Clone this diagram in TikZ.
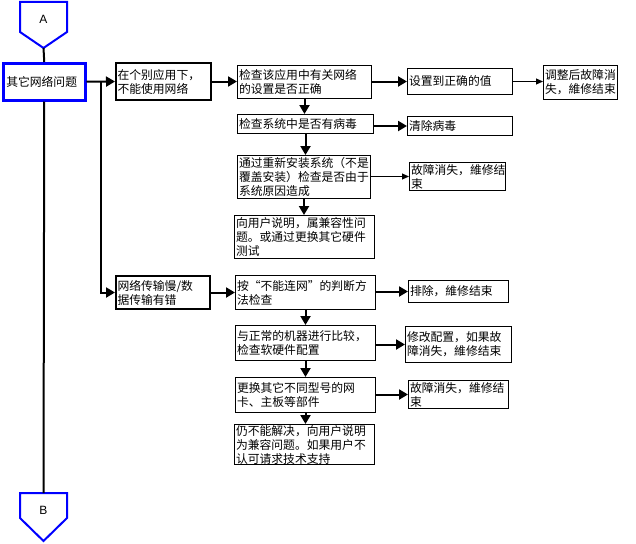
\documentclass[tikz,border=0pt]{standalone}
\usepackage{fontspec}
\setmainfont{Liberation Sans}
\newfontfamily\cjk{Noto Sans CJK SC}
\usetikzlibrary{arrows.meta}
\definecolor{pblue}{RGB}{0,0,255}
\begin{document}
\begin{tikzpicture}[x=1pt,y=-1pt,
  box/.style={draw, line width=1pt, anchor=north west, inner xsep=1.5pt, inner ysep=0pt,
    align=left, font=\cjk\fontsize{11.8}{14}\selectfont},
  thickbox/.style={box, line width=2pt},
  conn/.style={draw=pblue, line width=2pt, line join=miter},
  ln/.style={line width=2pt},
  arr/.style={line width=2pt, -{Triangle[length=9pt,width=10pt]}},
  tarr/.style={line width=1pt, -{Triangle[length=7pt,width=6pt]}},
]
\useasboundingbox (0,0) rectangle (636,543);

% off-page connectors
\draw[conn] (20,2) -- (67,2) -- (67,32) -- (43.5,48) -- (20,32) -- cycle;
\node[font=\fontsize{12}{14}\selectfont] (A) at (43.5,19) {A};
\coordinate (Atip) at (43.5,48);
\draw[conn] (20,493) -- (67,493) -- (67,518) -- (43.5,541) -- (20,518) -- cycle;
\node[font=\fontsize{12}{14}\selectfont] (B) at (43.5,510) {B};
\coordinate (Btop) at (43.5,493);

% boxes
\node[box, draw=pblue, line width=2.5pt, minimum width=82pt, minimum height=37pt, text width=76pt, inner xsep=3pt] (q) at (2,62) {其它网络问题};
\node[thickbox, minimum width=95pt, minimum height=37pt, text width=92pt] (b1) at (115,62) {在个别应用下，\\不能使用网络};
\node[box, minimum width=134pt, minimum height=33pt, text width=131pt] (c1) at (237,65) {检查该应用中有关网络\\的设置是否正确};
\node[box, minimum width=105pt, minimum height=26pt, text width=102pt] (d1) at (407,68) {设置到正确的值};
\node[box, minimum width=74pt, minimum height=34pt, text width=71pt] (e1) at (543,65) {调整后故障消\\失，維修结束};
\node[box, minimum width=136pt, minimum height=19pt, text width=133pt] (f1) at (237,114) {检查系统中是否有病毒};
\node[box, minimum width=105pt, minimum height=19pt, text width=102pt] (g1) at (407,116) {清除病毒};
\node[box, minimum width=133pt, minimum height=43pt, text width=130pt] (h1) at (237,155) {通过重新安装系统（不是\\覆盖安装）检查是否由于\\系统原因造成};
\node[box, minimum width=96pt, minimum height=28pt, text width=93pt] (i1) at (409,162) {故障消失，維修结\\束};
\node[box, minimum width=140pt, minimum height=43pt, text width=137pt] (j1) at (234,215) {向用户说明，属兼容性问\\题。或通过更换其它硬件\\测试};

\node[thickbox, minimum width=94pt, minimum height=33pt, text width=91pt] (k1) at (115,275) {网络传输慢/数\\据传输有错};
\node[box, minimum width=140pt, minimum height=34pt, text width=137pt] (l1) at (235,275) {按“不能连网”的判断方\\法检查};
\node[box, minimum width=100pt, minimum height=22pt, text width=97pt] (m1) at (408,280) {排除，維修结束};
\node[box, minimum width=140pt, minimum height=35pt, text width=137pt] (n1) at (235,325) {与正常的机器进行比较，\\检查软硬件配置};
\node[box, minimum width=106pt, minimum height=36pt, text width=103pt] (o1) at (405,326) {修改配置，如果故\\障消失，維修结束};
\node[box, minimum width=140pt, minimum height=35pt, text width=137pt] (p1) at (235,377) {更换其它不同型号的网\\卡、主板等部件};
\node[box, minimum width=100pt, minimum height=28pt, text width=97pt] (r1) at (408,380) {故障消失，維修结\\束};
\node[box, minimum width=140pt, minimum height=40pt, text width=137pt] (s1) at (234,424) {仍不能解决，向用户说明\\为兼容问题。如果用户不\\认可请求技术支持};

% main spine
\draw[ln] (Atip) -- (q.north);
\draw[ln] (q.south) -- (Btop);

% branches
\draw[arr] (q.east) -- (b1.west);
\coordinate (jn) at ([xshift=14pt]q.east);
\draw[arr] (jn) |- (k1.west);

% first group
\draw[arr] (b1.east) -- (c1.west |- b1.east);
\draw[arr] (c1.east |- d1.west) -- (d1.west);
\draw[tarr] (d1.east) -- (e1.west |- d1.east);
\draw[arr] (c1.south) -- (c1.south |- f1.north);
\draw[arr] (f1.east |- g1.west) -- (g1.west);
\draw[arr] (f1.south) -- (f1.south |- h1.north);
\draw[tarr] (h1.east |- i1.west) -- (i1.west);
\draw[arr] (h1.south) -- (h1.south |- j1.north);

% second group
\draw[arr] (k1.east) -- (l1.west |- k1.east);
\draw[arr] (l1.east |- m1.west) -- (m1.west);
\draw[arr] (l1.south) -- (l1.south |- n1.north);
\draw[arr] (n1.east |- o1.west) -- (o1.west);
\draw[arr] (n1.south) -- (n1.south |- p1.north);
\draw[arr] (p1.east |- r1.west) -- (r1.west);
\draw[arr] (p1.south) -- (p1.south |- s1.north);
\end{tikzpicture}
\end{document}
